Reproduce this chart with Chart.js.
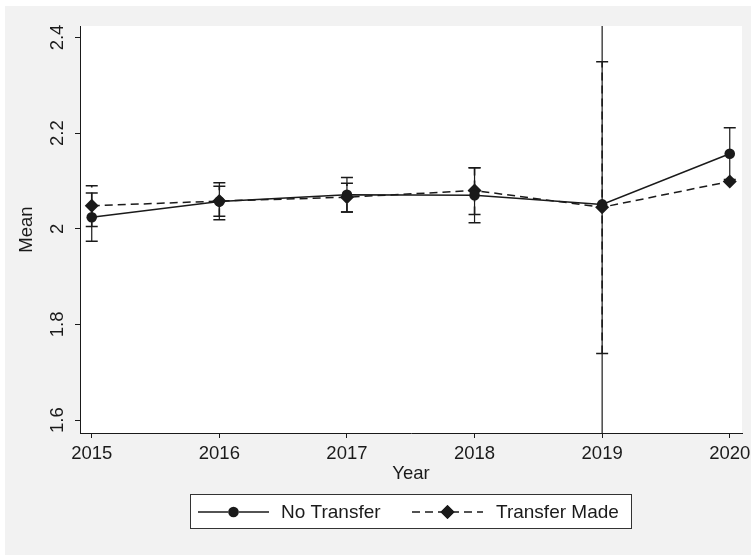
<!DOCTYPE html>
<html>
<head>
<meta charset="utf-8">
<script src="https://cdn.jsdelivr.net/npm/chart.js@4.4.0/dist/chart.umd.min.js"></script>
<style>
body { margin: 0; background: #fff; }
#wrap { width: 751px; height: 555px; }
</style>
</head>
<body>
<div id="wrap"><canvas id="meanChart" width="751" height="555"></canvas></div>
<script>
// values
const years = [2015, 2016, 2017, 2018, 2019, 2020];
const xTickLabels = ['2015', '2016', '2017', '2018', '2019', '2020'];
const yTicks = [1.6, 1.8, 2.0, 2.2, 2.4];
const yTickLabels = ['1.6', '1.8', '2', '2.2', '2.4'];

const noTransferMean = [2.024, 2.057, 2.071, 2.070, 2.051, 2.157];
const noTransferLow = [1.974, 2.019, 2.035, 2.0125, 1.45, 2.103];
const noTransferHigh = [2.075, 2.096, 2.107, 2.1275, 2.65, 2.211];

const transferMean = [2.048, 2.058, 2.066, 2.080, 2.045, 2.099];
const transferLow = [2.005, 2.026, 2.035, 2.030, 1.739, null];
const transferHigh = [2.090, 2.089, 2.095, 2.1275, 2.349, null];

const ink = '#1a1a1a';
const fontFamily = '"Liberation Sans", Arial, Helvetica, sans-serif';
const dash = [8, 5];

function points(values) {
    return years.map((y, i) => ({ x: y, y: values[i] }));
}

const backdrop = {
    id: 'backdrop',
    beforeDraw(chart) {
        const ctx = chart.ctx;
        const a = chart.chartArea;
        ctx.save();
        ctx.fillStyle = '#f2f2f2';
        ctx.fillRect(5, 6, chart.width - 5, chart.height - 6);
        ctx.fillStyle = '#ffffff';
        ctx.fillRect(a.left, a.top, a.right - a.left, a.bottom - a.top);
        ctx.restore();
    }
};

const errorBars = {
    id: 'errorBars',
    beforeDatasetsDraw(chart) {
        const ctx = chart.ctx;
        const a = chart.chartArea;
        const xs = chart.scales.x;
        const ys = chart.scales.y;
        ctx.save();
        ctx.beginPath();
        ctx.rect(a.left, a.top, a.right - a.left, a.bottom - a.top);
        ctx.clip();
        ctx.strokeStyle = ink;
        chart.data.datasets.forEach(ds => {
            ds.low.forEach((lo, i) => {
                const hi = ds.high[i];
                if (lo == null || hi == null) return;
                const x = xs.getPixelForValue(years[i]);
                const y1 = ys.getPixelForValue(lo);
                const y2 = ys.getPixelForValue(hi);
                ctx.lineWidth = ds.ciWidth;
                ctx.setLineDash(ds.borderDash || []);
                ctx.beginPath();
                ctx.moveTo(x, y1);
                ctx.lineTo(x, y2);
                ctx.stroke();
                ctx.setLineDash([]);
                ctx.lineWidth = 1.5;
                ctx.beginPath();
                ctx.moveTo(x - 6, y1);
                ctx.lineTo(x + 6, y1);
                ctx.moveTo(x - 6, y2);
                ctx.lineTo(x + 6, y2);
                ctx.stroke();
            });
        });
        ctx.restore();
    }
};

const boxLegend = {
    id: 'boxLegend',
    afterDraw(chart) {
        const ctx = chart.ctx;
        ctx.save();
        ctx.fillStyle = '#ffffff';
        ctx.fillRect(190, 494, 442, 35);
        ctx.strokeStyle = '#333333';
        ctx.lineWidth = 1;
        ctx.strokeRect(190.5, 494.5, 441, 34);

        const cy = 512;
        const entries = [
            { ds: chart.data.datasets[0], x0: 198, x1: 269, tx: 281 },
            { ds: chart.data.datasets[1], x0: 412, x1: 483, tx: 496 }
        ];
        entries.forEach(e => {
            ctx.strokeStyle = ink;
            ctx.lineWidth = 1.5;
            ctx.setLineDash(e.ds.borderDash || []);
            ctx.beginPath();
            ctx.moveTo(e.x0, cy);
            ctx.lineTo(e.x1, cy);
            ctx.stroke();
            ctx.setLineDash([]);
            Chart.helpers.drawPoint(ctx, {
                pointStyle: e.ds.pointStyle,
                radius: e.ds.pointRadius,
                borderWidth: 0
            }, (e.x0 + e.x1) / 2, cy);
            ctx.fillStyle = ink;
            ctx.fill();
            ctx.font = '19px ' + fontFamily;
            ctx.textBaseline = 'middle';
            ctx.textAlign = 'left';
            ctx.fillText(e.ds.label, e.tx, cy + 1);
        });
        ctx.restore();
    }
};

const ctx = document.getElementById('meanChart').getContext('2d');
new Chart(ctx, {
    type: 'line',
    data: {
        datasets: [{
            label: 'No Transfer',
            data: points(noTransferMean),
            low: noTransferLow,
            high: noTransferHigh,
            ciWidth: 1.2,
            borderColor: ink,
            backgroundColor: ink,
            borderWidth: 1.5,
            pointStyle: 'circle',
            pointRadius: 5.3,
            pointBorderWidth: 0,
            tension: 0
        }, {
            label: 'Transfer Made',
            data: points(transferMean),
            low: transferLow,
            high: transferHigh,
            ciWidth: 1.6,
            borderColor: ink,
            backgroundColor: ink,
            borderWidth: 1.5,
            borderDash: dash,
            pointStyle: 'rectRot',
            pointRadius: 7,
            pointBorderWidth: 0,
            tension: 0
        }]
    },
    options: {
        responsive: false,
        animation: false,
        layout: {
            padding: { left: 0, top: 26, right: 9, bottom: 70 }
        },
        plugins: {
            legend: { display: false },
            tooltip: { enabled: false }
        },
        scales: {
            x: {
                type: 'linear',
                min: 2014.908,
                max: 2020.096,
                afterBuildTicks: s => { s.ticks = years.map(v => ({ value: v })); },
                afterFit: s => { s.height = 52; s.paddingLeft = 0; s.paddingRight = 0; },
                ticks: {
                    callback: (v, i) => xTickLabels[i],
                    autoSkip: false,
                    maxRotation: 0,
                    padding: 5,
                    color: ink,
                    font: { family: fontFamily, size: 18.5 }
                },
                grid: {
                    drawOnChartArea: false,
                    drawTicks: true,
                    tickLength: 5,
                    color: ink
                },
                border: { color: ink, width: 1 },
                title: {
                    display: true,
                    text: 'Year',
                    color: ink,
                    padding: { top: 0, bottom: 0.4 },
                    font: { family: fontFamily, size: 18.5 }
                }
            },
            y: {
                type: 'linear',
                min: 1.573,
                max: 2.424,
                afterBuildTicks: s => { s.ticks = yTicks.map(v => ({ value: v })); },
                afterFit: s => { s.width = 80; s.paddingTop = 0; s.paddingBottom = 0; },
                ticks: {
                    callback: (v, i) => yTickLabels[i],
                    minRotation: 90,
                    maxRotation: 90,
                    crossAlign: 'center',
                    padding: 4.6,
                    color: ink,
                    font: { family: fontFamily, size: 18.5 }
                },
                grid: {
                    drawOnChartArea: false,
                    drawTicks: true,
                    tickLength: 5,
                    color: ink
                },
                border: { color: ink, width: 1 },
                title: {
                    display: true,
                    text: 'Mean',
                    color: ink,
                    padding: { top: 15.9, bottom: 0 },
                    font: { family: fontFamily, size: 18.5 }
                }
            }
        }
    },
    plugins: [backdrop, errorBars, boxLegend]
});
</script>
</body>
</html>
